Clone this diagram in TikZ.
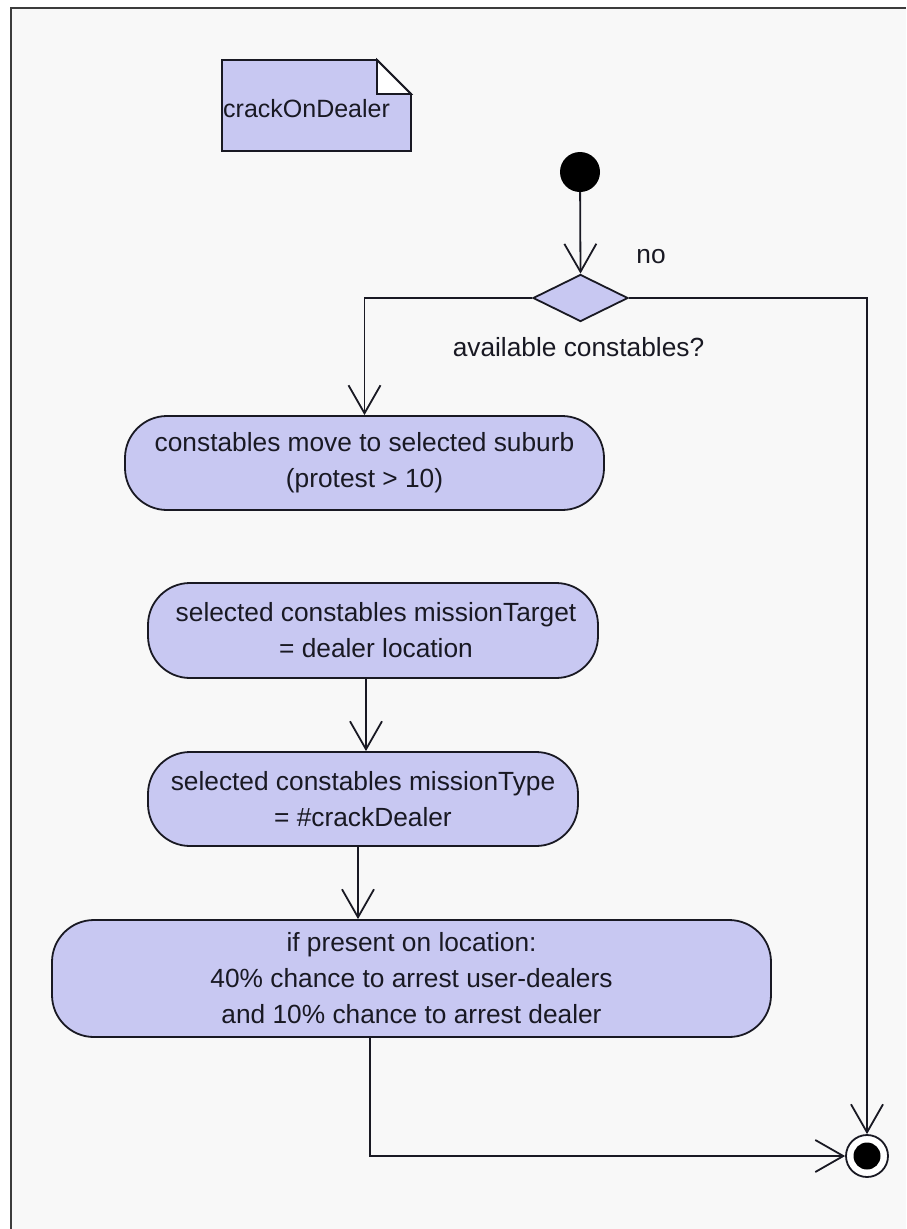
\documentclass[tikz,border=0pt]{standalone}
\usepackage{fontspec}
\setmainfont{Liberation Sans}
\usetikzlibrary{arrows.meta,shapes.geometric}
\definecolor{actfill}{RGB}{200,200,242}
\definecolor{canvas}{RGB}{248,248,248}
\definecolor{framecol}{RGB}{60,60,60}
\definecolor{inkcol}{RGB}{25,25,35}
\tikzset{
  ink/.style={draw=inkcol, line width=1.8pt},
  actbox/.style={ink, fill=actfill, rounded corners=42pt, align=center,
    inner sep=0pt, text=inkcol, font=\fontsize{26.3}{36}\selectfont},
  flow/.style={ink, -{Straight Barb[length=28pt,width=32pt,line width=1.8pt]}},
  lbl/.style={text=inkcol, font=\fontsize{26.3}{36}\selectfont, inner sep=0pt},
}
\begin{document}
\begin{tikzpicture}[x=1pt,y=-1pt]
  \useasboundingbox (0,0) rectangle (906,1229);
  % canvas and frame
  \fill[white] (0,0) rectangle (906,1229);
  \fill[canvas] (11,7.5) rectangle (906,1229);
  \draw[framecol, line width=2pt] (11,1229) -- (11,7.5) -- (906,7.5);

  % comment note with folded corner
  \filldraw[ink, fill=actfill] (222,60) -- (377,60) -- (411,94) -- (411,151) -- (222,151) -- cycle;
  \filldraw[ink, fill=white] (377,60) -- (377,94) -- (411,94) -- cycle;
  \node[lbl, anchor=west, font=\fontsize{25}{30}\selectfont] (note) at (223,109) {crackOnDealer};

  % initial node and decision
  \node[circle, fill=black, minimum size=40pt, inner sep=0pt] (init) at (580,172) {};
  \node[diamond, ink, fill=actfill, minimum width=95pt, minimum height=47pt, inner sep=0pt] (dec) at (580.5,298) {};
  \node[lbl] (nolbl) at (651,257) {no};
  \node[lbl] (declbl) at (578.5,347) {available constables?};

  % actions
  \node[actbox, minimum width=479pt, minimum height=94pt] (a1) at (364.5,463)
    {\raisebox{-3pt}{constables move to selected suburb}\\\raisebox{-3pt}{(protest > 10)}};
  \node[actbox, minimum width=450pt, minimum height=95pt] (a2) at (373,630.5)
    {\hspace*{6pt}selected constables missionTarget\\\hspace*{6pt}= dealer location};
  \node[actbox, minimum width=430pt, minimum height=94pt] (a3) at (363,799)
    {selected constables missionType\\= \#crackDealer};
  \node[actbox, minimum width=719pt, minimum height=117pt] (a4) at (411.5,978.5)
    {if present on location:\\40\% chance to arrest user-dealers\\ and 10\% chance to arrest dealer};

  % final node
  \node[circle, ink, fill=white, minimum size=42pt, inner sep=0pt] (fin) at (867,1156) {};
  \fill[black] (fin.center) circle (13.5pt);

  % control flow
  \draw[flow] (init) -- (dec.north);
  \draw[flow] (dec.west) -| (a1.north);
  \draw[flow] (dec.east) -| (fin.north);
  \draw[flow] ([xshift=-7pt]a2.south) -- ([xshift=3pt]a3.north);
  \draw[flow] ([xshift=-5pt]a3.south) -- ([xshift=-53.5pt]a4.north);
  \draw[flow] ([xshift=-41.5pt]a4.south) |- (fin.west);
\end{tikzpicture}
\end{document}
